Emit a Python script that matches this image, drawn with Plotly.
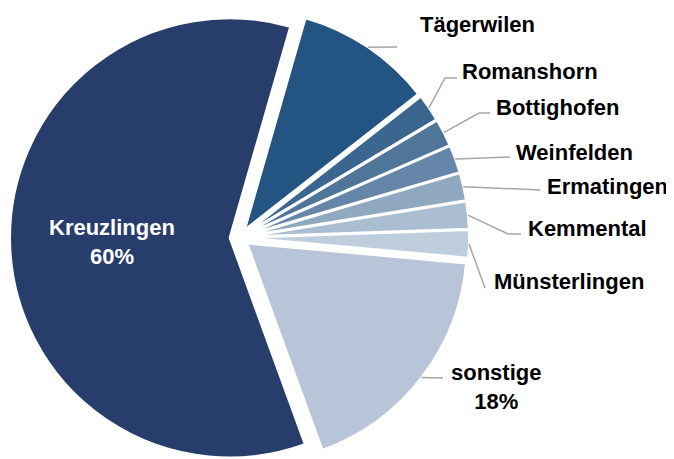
import math
import plotly.graph_objects as go

WIDTH, HEIGHT = 674, 459

labels = ["Tägerwilen", "Romanshorn", "Bottighofen", "Weinfelden", "Ermatingen",
          "Kemmental", "Münsterlingen", "sonstige", "Kreuzlingen"]
values = [10, 2, 2, 2, 2, 2, 2, 18, 60]
show_pct = [False, False, False, False, False, False, False, True, True]

colors = ["#245482", "#3B6690", "#4F7599", "#6586A8", "#90A8C0",
          "#AABDD1", "#BFCEDD", "#B8C5D8", "#273D6B"]

DOMAIN_X = [0, 0.687]
DOMAIN_Y = [0, 1]
PULL = 0.045
ROTATION = 16
FONT = "Arial, Liberation Sans, sans-serif"
FONT_SIZE = 22
# the html page body has an 8px margin, so screen positions are shifted by it
PAGE_OFFSET = 8

# label placement in screen pixels: (x, y, xanchor) and leader-line points towards the label
label_pos = {
    "Tägerwilen": (418, 25, "left"),
    "Romanshorn": (460, 72, "left"),
    "Bottighofen": (494, 107, "left"),
    "Weinfelden": (514, 152, "left"),
    "Ermatingen": (545, 186, "left"),
    "Kemmental": (526, 229, "left"),
    "Münsterlingen": (492, 281, "left"),
    "sonstige": (496, 387, "center"),
}
leader_pts = {
    "Tägerwilen": [(397, 47)],
    "Romanshorn": [(445, 78), (457, 78)],
    "Bottighofen": [(479, 113), (490, 113)],
    "Weinfelden": [(510, 157)],
    "Ermatingen": [(540, 190)],
    "Kemmental": [(508, 234), (521, 234)],
    "Münsterlingen": [(485, 288)],
    "sonstige": [(443, 378)],
}

# pie geometry as plotly computes it (margins are zero), in figure pixels
avail_w = WIDTH * (DOMAIN_X[1] - DOMAIN_X[0])
avail_h = HEIGHT * (DOMAIN_Y[1] - DOMAIN_Y[0])
r = min(avail_w, avail_h) / 2 / (1 + PULL)
cx = WIDTH * (DOMAIN_X[0] + DOMAIN_X[1]) / 2
cy = HEIGHT * (1 - DOMAIN_Y[0]) - avail_h / 2

total = sum(values)
mids = []
angle = ROTATION
for v in values:
    mids.append(angle + 180 * v / total)
    angle += 360 * v / total


def arc_point(mid, frac):
    a = math.radians(mid)
    ox = cx + PULL * r * math.sin(a)
    oy = cy - PULL * r * math.cos(a)
    return ox + frac * r * math.sin(a), oy - frac * r * math.cos(a)


def fig_px(x, y):
    return x / WIDTH, 1 - y / HEIGHT


def screen_px(x, y):
    return fig_px(x - PAGE_OFFSET, y - PAGE_OFFSET)


fig = go.Figure(
    go.Pie(
        labels=labels,
        values=values,
        sort=False,
        direction="clockwise",
        rotation=ROTATION,
        pull=[PULL] * len(values),
        marker={"colors": colors, "line": {"color": "white", "width": 2}},
        textinfo="none",
        hoverinfo="label+percent",
        domain={"x": DOMAIN_X, "y": DOMAIN_Y},
    )
)

annotations = []
shapes = []
for lab, val, mid, pct in zip(labels, values, mids, show_pct):
    text = lab
    if pct:
        text += f"<br>{round(100 * val / total)}%"
    if lab == "Kreuzlingen":
        xp, yp = fig_px(*arc_point(mid, 0.535))
        annotations.append(dict(x=xp, y=yp, xref="paper", yref="paper", text=text,
                                showarrow=False, xanchor="center", yanchor="middle",
                                font={"family": FONT, "size": FONT_SIZE, "color": "white",
                                      "weight": "bold"}))
        continue
    lx, ly, anchor = label_pos[lab]
    xp, yp = screen_px(lx, ly)
    annotations.append(dict(x=xp, y=yp, xref="paper", yref="paper", text=text,
                            showarrow=False, xanchor=anchor, yanchor="middle",
                            font={"family": FONT, "size": FONT_SIZE, "color": "black",
                                  "weight": "bold"}))
    pts = [fig_px(*arc_point(mid, 1.0))] + [screen_px(x, y) for x, y in leader_pts[lab]]
    path = ""
    for i, (a, b) in enumerate(pts):
        path += ("M" if i == 0 else " L") + f" {a:.4f},{b:.4f}"
    shapes.append(dict(type="path", path=path, xref="paper", yref="paper",
                       line={"color": "#A6A6A6", "width": 1.5}))

fig.update_layout(
    width=WIDTH,
    height=HEIGHT,
    margin={"l": 0, "r": 0, "t": 0, "b": 0},
    paper_bgcolor="white",
    plot_bgcolor="white",
    showlegend=False,
    annotations=annotations,
    shapes=shapes,
    font={"family": FONT},
)

fig.write_html("out.html")
